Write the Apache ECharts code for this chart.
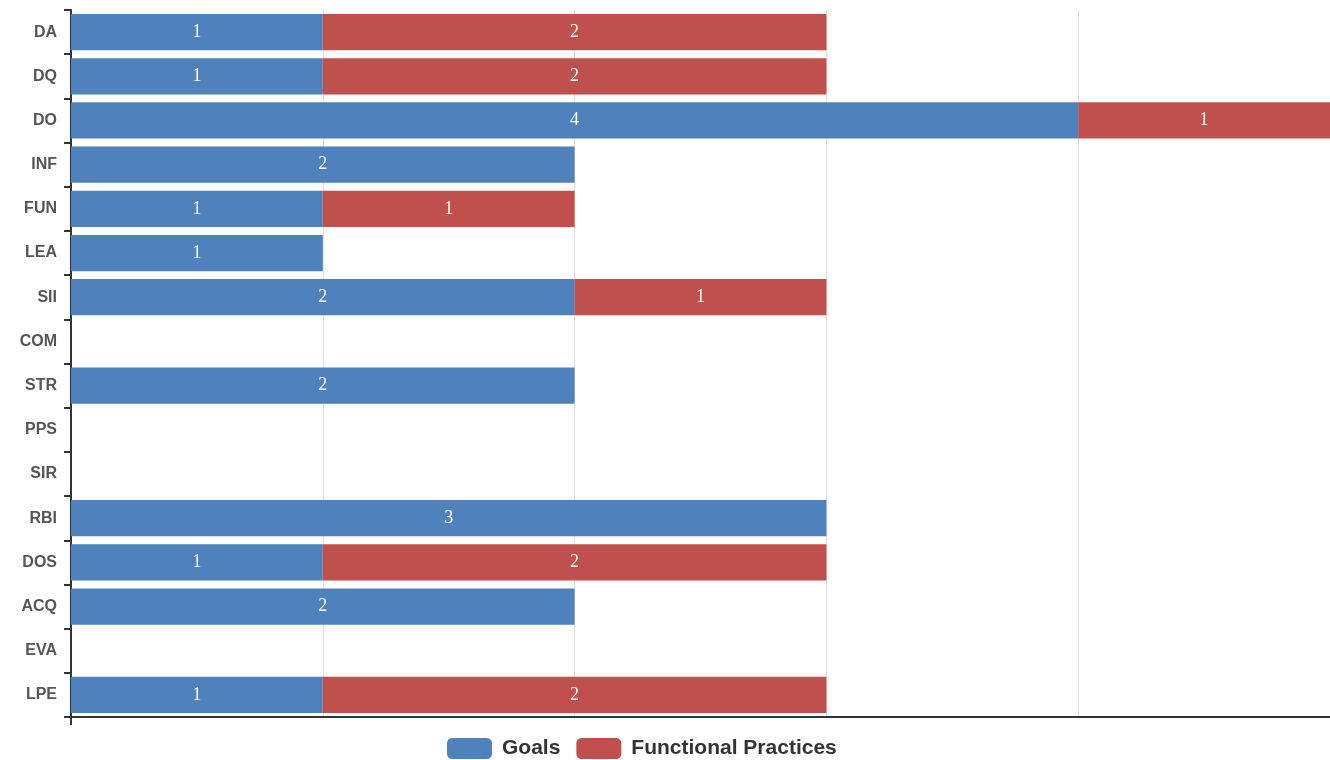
<!DOCTYPE html>
<html>
<head>
<meta charset="utf-8">
<script src="https://cdn.jsdelivr.net/npm/echarts@6/dist/echarts.min.js"></script>
<style>
  html, body { margin: 0; padding: 0; background: #fff; }
  #chart { width: 1330px; height: 760px; }
</style>
</head>
<body>
<div id="chart"></div>
<script>
var categories = ['DA', 'DQ', 'DO', 'INF', 'FUN', 'LEA', 'SII', 'COM', 'STR', 'PPS', 'SIR', 'RBI', 'DOS', 'ACQ', 'EVA', 'LPE']
var goals = [1, 1, 4, 2, 1, 1, 2, 0, 2, 0, 0, 3, 1, 2, 0, 1]
var practices = [2, 2, 1, 0, 1, 0, 1, 0, 0, 0, 0, 0, 2, 0, 0, 2]

var barLabel = {
  show: true,
  position: 'inside',
  color: '#fff',
  fontFamily: 'Liberation Serif',
  fontSize: 18,
  formatter: function (p) {
    return p.value ? p.value : ''
  }
}

var chart = echarts.init(document.getElementById('chart'))
chart.setOption({
  animation: false,
  grid: {
    left: 71,
    right: 0,
    top: 10,
    bottom: 43
  },
  legend: {
    top: 733,
    left: 442,
    itemWidth: 45,
    itemHeight: 21,
    itemGap: 16,
    icon: 'roundRect',
    textStyle: {
      fontFamily: 'Liberation Sans',
      fontWeight: 'bold',
      fontSize: 21,
      color: '#333',
      padding: [0, 0, 0, 5]
    },
    data: ['Goals', 'Functional Practices']
  },
  xAxis: [
    {
      type: 'value',
      min: 0,
      max: 5,
      interval: 1,
      axisLabel: { show: false },
      axisLine: { show: true, lineStyle: { color: '#333', width: 2 } },
      axisTick: { show: false },
      splitLine: { show: true, lineStyle: { color: '#e0e0e0', width: 1 } }
    },
    {
      // only draws the tick at the origin
      type: 'value',
      position: 'bottom',
      min: 0,
      max: 5,
      interval: 1,
      axisLabel: { show: false },
      axisLine: { show: false },
      axisTick: {
        show: true,
        customValues: [0],
        length: 8,
        lineStyle: { color: '#333', width: 2 }
      },
      splitLine: { show: false }
    }
  ],
  yAxis: {
    type: 'category',
    inverse: true,
    data: categories,
    axisLine: { show: true, lineStyle: { color: '#333', width: 2 } },
    axisTick: { show: true, length: 7, lineStyle: { color: '#333', width: 2 } },
    axisLabel: {
      color: '#555',
      fontFamily: 'Liberation Sans',
      fontWeight: 'bold',
      fontSize: 16,
      margin: 14
    }
  },
  series: [
    {
      name: 'Goals',
      type: 'bar',
      stack: 'total',
      xAxisIndex: 0,
      barCategoryGap: '18%',
      itemStyle: { color: '#4F81BD' },
      label: barLabel,
      data: goals
    },
    {
      name: 'Functional Practices',
      type: 'bar',
      stack: 'total',
      xAxisIndex: 0,
      barCategoryGap: '18%',
      itemStyle: { color: '#C0504D' },
      label: barLabel,
      data: practices
    }
  ]
})
</script>
</body>
</html>
